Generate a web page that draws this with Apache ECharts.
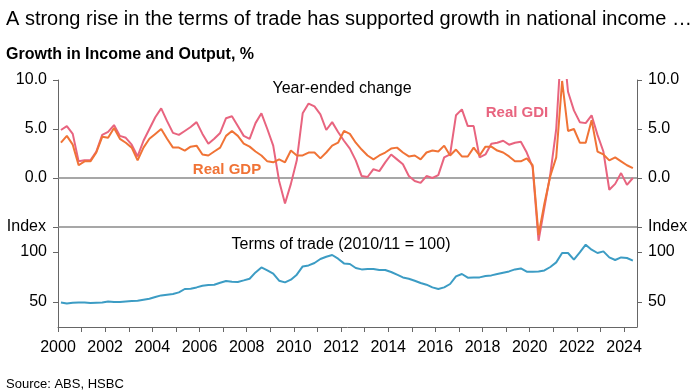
<!DOCTYPE html>
<html><head><meta charset="utf-8">
<script src="https://cdn.jsdelivr.net/npm/echarts@6/dist/echarts.min.js"></script>
<style>html,body{margin:0;padding:0;background:#fff}#c{width:696px;height:390px}</style>
</head><body><div id="c"></div>
<script>
// Quarterly data, 2000Q1 - 2024Q2
const startYear = 2000;
const realGDP = [3.6,4.3,3.4,1.3, 1.7,1.7,2.6,4.2, 4.1,5.1,4.0,3.6, 3.1,1.8,3.1,4.0, 4.5,5.0,4.0,3.1, 3.1,2.8,3.2,3.3,
  2.4,2.3,2.7,3.1, 4.3,4.8,4.3,3.5, 3.2,2.7,2.3,1.7, 1.6,1.9,1.6,2.8, 2.3,2.3,2.6,2.6, 2.0,2.6,3.3,3.6,
  4.8,4.5,3.6,2.9, 2.3,1.9,2.3,2.6, 3.0,3.1,2.6,2.2, 2.3,1.9,2.6,2.8, 2.7,3.3,2.3,2.9, 2.2,2.2,3.1,2.3,
  3.2,3.2,2.8,2.6, 2.2,1.7,1.7,2.0, 1.3,-5.8,-2.6,0.2, 2.1,9.9,4.8,5.0, 3.6,3.6,5.9,2.7, 2.4,1.8,2.1,1.7,
  1.3,1.0];
const realGDI = [4.9,5.3,4.5,1.7, 1.8,1.8,2.7,4.4, 4.7,5.4,4.3,4.1, 3.4,2.2,3.8,5.0, 6.2,7.1,5.8,4.6, 4.4,4.8,5.2,5.7,
  4.5,3.5,4.0,4.6, 6.1,6.3,5.3,4.3, 4.0,5.6,6.6,5.0, 3.3,-0.3,-2.6,-0.6, 1.8,6.6,7.6,7.3, 6.5,4.9,5.7,4.7,
  3.8,3.0,1.8,0.2, 0.1,0.9,0.7,1.6, 2.4,1.9,1.4,0.2, -0.3,-0.5,0.2,0.0, 0.3,2.1,2.4,6.4, 7.0,5.3,5.3,2.1,
  2.4,3.5,3.6,3.8, 3.4,3.6,3.7,2.6, 1.1,-6.4,-3.0,0.4, 5.0,15.0,8.8,6.9, 5.7,5.6,6.4,4.4, 2.7,-1.2,-0.6,0.5,
  -0.7,0.0];
const termsOfTrade = [49.6,48.6,49.3,49.6, 49.6,49.0,49.3,49.6, 50.6,50.0,50.0,50.6, 51.0,51.3,52.3,53.3, 55.0,56.6,57.3,58.0,
  59.6,63.0,63.3,64.6, 66.3,67.0,67.3,69.3, 71.0,70.3,70.0,71.6, 73.3,79.6,84.6,81.6, 78.3,71.3,69.6,72.3,
  77.3,85.6,86.6,89.0, 93.0,95.3,97.0,93.3, 88.6,88.0,84.0,82.6, 83.0,83.0,82.0,82.0, 80.0,77.3,74.6,73.3,
  71.3,69.0,67.3,64.6, 63.0,64.6,68.0,75.6, 78.0,74.3,74.6,74.6, 76.0,76.6,78.0,79.3, 80.6,82.6,83.6,80.3,
  80.3,80.6,81.6,85.0, 89.6,99.0,99.0,92.3, 99.6,107.3,102.3,99.0, 100.6,94.6,92.0,94.6, 94.0,91.3];
const yearTicks = [2000,2001,2002,2003,2004,2005,2006,2007,2008,2009,2010,2011,2012,2013,2014,2015,2016,2017,2018,2019,2020,2021,2022,2023,2024];
const yearLabels = [2000,2002,2004,2006,2008,2010,2012,2014,2016,2018,2020,2022,2024];
const growthTicks = [-5,0,5,10];
const growthLabels = [0,5,10];
const indexTicks = [50,100];

// quarter labels and their mid-quarter positions on the time axis
const quarters = realGDP.map((_, i) => (startYear + Math.floor(i / 4)) + 'Q' + (i % 4 + 1));
const qPos = quarters.map(q => +q.slice(0, 4) + (+q.slice(5) - 0.5) / 4);
const pair = arr => arr.map((v, i) => [qPos[i], v]);

const FONT = "'Liberation Sans', Arial, sans-serif";
const C_GDI = '#e8647f', C_GDP = '#f07336', C_TOT = '#3c9cc4';
const AX = '#666';

const chart = echarts.init(document.getElementById('c'), null, {renderer: 'canvas'});

function growthAxis(pos) {
  return {
    type: 'value', gridIndex: 0, position: pos, min: -7, max: 10,
    axisLine: {show: true, lineStyle: {color: AX, width: 1}},
    axisTick: {show: true, length: 5, customValues: growthTicks, lineStyle: {color: AX}},
    axisLabel: {customValues: growthLabels, margin: 11, color: '#000', fontFamily: FONT, fontSize: 16,
      formatter: v => v.toFixed(1)},
    splitLine: {show: false}
  };
}
function indexAxis(pos) {
  return {
    type: 'value', gridIndex: 1, position: pos, min: 25, max: 125,
    name: 'Index', nameLocation: 'end', nameGap: 0,
    nameTextStyle: {color: '#000', fontFamily: FONT, fontSize: 16, verticalAlign: 'middle',
      align: pos === 'left' ? 'right' : 'left',
      padding: pos === 'left' ? [0, 12, 0, 0] : [0, 0, 0, 11]},
    axisLine: {show: true, lineStyle: {color: AX, width: 1}},
    axisTick: {show: true, length: 5, customValues: indexTicks, lineStyle: {color: AX}},
    axisLabel: {customValues: indexTicks, margin: 11, color: '#000', fontFamily: FONT, fontSize: 16},
    splitLine: {show: false}
  };
}

chart.setOption({
  animation: false,
  backgroundColor: '#fff',
  textStyle: {fontFamily: FONT},
  title: [
    {text: 'A strong rise in the terms of trade has supported growth in national income …', left: 1, top: 4,
      textStyle: {fontFamily: FONT, fontSize: 20, fontWeight: 'normal', color: '#000'}},
    {text: 'Growth in Income and Output, %', left: 1, top: 42,
      textStyle: {fontFamily: FONT, fontSize: 16, fontWeight: 'bold', color: '#000'}},
    {text: 'Source: ABS, HSBC', left: 1, top: 373,
      textStyle: {fontFamily: FONT, fontSize: 13, fontWeight: 'normal', color: '#000'}}
  ],
  grid: [
    {left: 58, right: 59, top: 80, height: 166.6},
    {left: 58, right: 59, top: 227, height: 100}
  ],
  xAxis: [
    {type: 'value', gridIndex: 0, min: 2000, max: 2024.55, show: false},
    {type: 'value', gridIndex: 1, min: 2000, max: 2024.55,
      axisLine: {show: true, onZero: false, lineStyle: {color: AX, width: 1}},
      axisTick: {show: true, length: 5, customValues: yearTicks, lineStyle: {color: AX}},
      axisLabel: {customValues: yearLabels, margin: 13, color: '#000', fontFamily: FONT, fontSize: 16,
        formatter: v => String(Math.round(v))},
      splitLine: {show: false}}
  ],
  yAxis: [growthAxis('left'), growthAxis('right'), indexAxis('left'), indexAxis('right')],
  graphic: [
    {type: 'text', style: {text: 'Year-ended change', x: 342, y: 89, align: 'center', verticalAlign: 'middle', fontFamily: FONT, fontSize: 16, fill: '#000'}},
    {type: 'text', style: {text: 'Real GDI', x: 517, y: 113, align: 'center', verticalAlign: 'middle', fontFamily: FONT, fontSize: 15, fontWeight: 'bold', fill: C_GDI}},
    {type: 'text', style: {text: 'Real GDP', x: 227, y: 170, align: 'center', verticalAlign: 'middle', fontFamily: FONT, fontSize: 15, fontWeight: 'bold', fill: C_GDP}},
    {type: 'text', style: {text: 'Terms of trade (2010/11 = 100)', x: 341, y: 245, align: 'center', verticalAlign: 'middle', fontFamily: FONT, fontSize: 16, fill: '#000'}}
  ],
  series: [
    {name: 'Real GDI', type: 'line', xAxisIndex: 0, yAxisIndex: 0, data: pair(realGDI), clip: true,
      showSymbol: false, lineStyle: {color: C_GDI, width: 2}, itemStyle: {color: C_GDI}, z: 3,
      markLine: {silent: true, symbol: 'none', label: {show: false},
        lineStyle: {color: '#8a8a8a', width: 1.5, type: 'solid'},
        data: [{yAxis: 0}, {yAxis: -5}], z: 1}},
    {name: 'Real GDP', type: 'line', xAxisIndex: 0, yAxisIndex: 0, data: pair(realGDP), clip: true,
      showSymbol: false, lineStyle: {color: C_GDP, width: 2}, itemStyle: {color: C_GDP}, z: 4},
    {name: 'Terms of trade', type: 'line', xAxisIndex: 1, yAxisIndex: 2, data: pair(termsOfTrade), clip: true,
      showSymbol: false, lineStyle: {color: C_TOT, width: 2}, itemStyle: {color: C_TOT}, z: 3}
  ]
});
</script></body></html>
